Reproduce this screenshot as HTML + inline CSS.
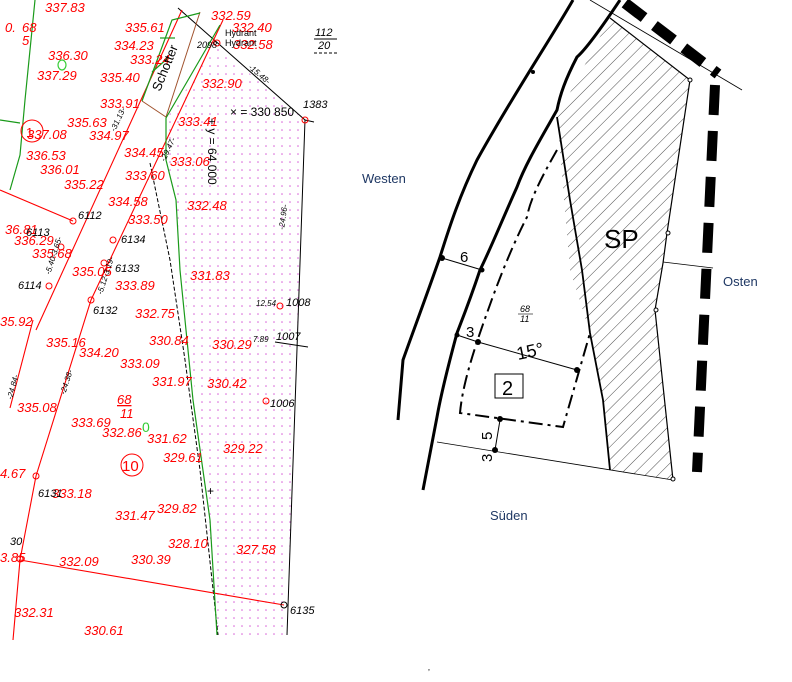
<!DOCTYPE html>
<html><head><meta charset="utf-8"><style>
html,body{margin:0;padding:0;background:#fff}
svg{display:block}
.r{fill:#f00;font:italic 13px "Liberation Sans",sans-serif}
.k{fill:#000;font:italic 11px "Liberation Sans",sans-serif}
.b{fill:#1f3864;font:13px "Liberation Sans",sans-serif}
</style></head><body>
<svg width="792" height="682" viewBox="0 0 792 682" xmlns="http://www.w3.org/2000/svg">
<defs>
<pattern id="dots" width="8" height="8" patternUnits="userSpaceOnUse"><circle cx="2" cy="2" r="0.8" fill="#d860d8"/></pattern>
<pattern id="hatch" width="9" height="9" patternUnits="userSpaceOnUse" patternTransform="rotate(45)"><line x1="0" y1="0" x2="0" y2="9" stroke="#000" stroke-width="0.7"/></pattern>
</defs>
<!-- LEFT MAP -->
<polygon points="216,45 305,120 287,635 218,635 205,480 190,350 176,200 166,160 167,118" fill="url(#dots)"/>
<polyline points="178,8 305,120 287,635" fill="none" stroke="#000" stroke-width="1"/>
<line x1="275" y1="342" x2="308" y2="347" stroke="#000"/>
<line x1="305" y1="120" x2="314" y2="122" stroke="#000"/>
<polyline points="150,163 170,260 185,360 200,470 218,635" fill="none" stroke="#000" stroke-width="1" stroke-dasharray="4,2"/>
<g stroke="#f00" stroke-width="1.1" fill="none">
<line x1="182" y1="10" x2="36" y2="330"/>
<line x1="33" y1="320" x2="10" y2="408"/>
<polyline points="223,20 91,300 36,476 20,560 13,640"/>
<line x1="0" y1="190" x2="73" y2="221"/>
<line x1="20" y1="560" x2="284" y2="605"/>
</g>
<polyline points="142,101 166,117 200,12" fill="none" stroke="#a0522d" stroke-width="1"/>
<g stroke="#1a9a1a" stroke-width="1.2" fill="none">
<polyline points="35,0 25,100 20,155 10,190"/>
<polyline points="0,120 20,123"/>
<polyline points="142,101 172,20 200,13"/>
<polyline points="220,25 166,118 166,160 176,200 180,270 193,400 210,520 217,635"/>
<line x1="160" y1="38" x2="175" y2="38"/><line x1="152" y1="72" x2="168" y2="58"/>
</g>
<ellipse cx="62" cy="65" rx="4" ry="5" fill="none" stroke="#3c3" stroke-width="1.2"/>
<text x="142" y="432" fill="#3c3" font-family="Liberation Sans" font-size="14">0</text>
<g fill="none" stroke="#f00" stroke-width="1">
<circle cx="32" cy="131" r="11"/><circle cx="73" cy="221" r="3"/><circle cx="61" cy="247" r="3"/><circle cx="49" cy="286" r="3"/>
<circle cx="113" cy="240" r="3"/><circle cx="104" cy="263" r="3"/><circle cx="91" cy="300" r="3"/>
<circle cx="36" cy="476" r="3"/><circle cx="20" cy="559" r="3"/><circle cx="266" cy="401" r="3"/><circle cx="280" cy="306" r="3"/><circle cx="305" cy="120" r="3"/><circle cx="217" cy="43" r="3"/>
<circle cx="132" cy="465" r="11"/>
</g>
<circle cx="284" cy="605" r="3" fill="none" stroke="#000"/>
<text x="26" y="137" class="r" style="font-style:normal">1</text>
<text x="122" y="471" fill="#f00" font-family="Liberation Sans" font-size="15">10</text>
<g class="r">
<text x="45" y="12">337.83</text><text x="5" y="32">0.</text><text x="22" y="32">68</text><text x="22" y="45">5</text>
<text x="48" y="60">336.30</text><text x="37" y="80">337.29</text>
<text x="125" y="32">335.61</text><text x="114" y="50">334.23</text><text x="130" y="64">333.24</text><text x="100" y="82">335.40</text>
<text x="100" y="108">333.91</text><text x="67" y="127">335.63</text><text x="27" y="139">337.08</text><text x="89" y="140">334.97</text>
<text x="26" y="160">336.53</text><text x="124" y="157">334.45</text><text x="40" y="174">336.01</text><text x="64" y="189">335.22</text>
<text x="125" y="180">333.60</text><text x="108" y="206">334.58</text><text x="128" y="224">333.50</text>
<text x="5" y="234">36.81</text><text x="14" y="245">336.29</text><text x="32" y="258">335.68</text><text x="72" y="276">335.05</text>
<text x="115" y="290">333.89</text><text x="0" y="326">35.92</text><text x="135" y="318">332.75</text>
<text x="211" y="20">332.59</text><text x="232" y="32">332.40</text><text x="233" y="49">332.58</text><text x="202" y="88">332.90</text>
<text x="178" y="126">333.41</text><text x="170" y="166">333.06</text><text x="187" y="210">332.48</text><text x="190" y="280">331.83</text>
<text x="149" y="345">330.84</text><text x="212" y="349">330.29</text><text x="46" y="347">335.16</text><text x="79" y="357">334.20</text>
<text x="120" y="368">333.09</text><text x="152" y="386">331.97</text><text x="207" y="388">330.42</text><text x="17" y="412">335.08</text>
<text x="71" y="427">333.69</text><text x="102" y="437">332.86</text><text x="147" y="443">331.62</text><text x="163" y="462">329.61</text>
<text x="223" y="453">329.22</text><text x="0" y="478">4.67</text><text x="52" y="498">333.18</text><text x="157" y="513">329.82</text>
<text x="115" y="520">331.47</text><text x="168" y="548">328.10</text><text x="236" y="554">327.58</text><text x="0" y="562">3.85</text>
<text x="59" y="566">332.09</text><text x="131" y="564">330.39</text><text x="14" y="617">332.31</text><text x="84" y="635">330.61</text>
<text x="117" y="404" style="text-decoration:underline">68</text><text x="120" y="418">11</text>
</g>
<g class="k">
<text x="78" y="219">6112</text><text x="121" y="243">6134</text><text x="115" y="272">6133</text><text x="18" y="289">6114</text>
<text x="93" y="314">6132</text><text x="26" y="236">6113</text><text x="38" y="497">6131</text><text x="10" y="545">30</text>
<text x="303" y="108">1383</text><text x="286" y="306">1008</text><text x="276" y="340">1007</text><text x="270" y="407">1006</text><text x="290" y="614">6135</text>
<text x="256" y="306" style="font-size:8px">12.54</text><text x="253" y="342" style="font-size:8px">7.89</text>
<text x="197" y="48" style="font-size:9px">2098</text>
<text x="315" y="36" style="font-size:11px">112</text><text x="318" y="49" style="font-size:11px">20</text>
<line x1="314" y1="39" x2="337" y2="39" stroke="#000"/><line x1="314" y1="53" x2="337" y2="53" stroke="#000" stroke-dasharray="3,2"/>
<text x="225" y="36" style="font-style:normal;font-size:9px">Hydrant</text><text x="225" y="46" style="font-style:normal;font-size:9px">Hydrant</text>
<text x="230" y="116" style="font-style:normal;font-size:12px">×  = 330  850</text>
<text x="0" y="0" transform="translate(208,118) rotate(90)" style="font-style:normal;font-size:12px">+ y = 64  000</text>
<text x="0" y="0" transform="translate(160,92) rotate(-68)" style="font-style:normal;font-size:13px">Schotter</text>
<text x="0" y="0" transform="translate(248,68) rotate(40)" style="font-size:8px">-15.48-</text>
<text x="0" y="0" transform="translate(284,230) rotate(-82)" style="font-size:8px">-24.96-</text>
<text x="0" y="0" transform="translate(115,132) rotate(-65)" style="font-size:8px">-31.13-</text>
<text x="0" y="0" transform="translate(165,162) rotate(-65)" style="font-size:8px">-29.47-</text>
<text x="0" y="0" transform="translate(12,400) rotate(-75)" style="font-size:8px">-24.84-</text>
<text x="0" y="0" transform="translate(65,395) rotate(-72)" style="font-size:8px">-24.38-</text>
<text x="0" y="0" transform="translate(50,275) rotate(-72)" style="font-size:8px">-5.40-3.65-</text>
<text x="0" y="0" transform="translate(102,295) rotate(-72)" style="font-size:8px">-5.12-3.19-</text>
</g>
<text x="207" y="495" font-size="12" font-family="Liberation Sans">+</text>
<text x="428" y="670" font-size="8">,</text>
<!-- RIGHT DIAGRAM -->
<polygon points="610,18 690,80 667,233 663,263 655,310 673,480 610,470 603,400 590,333 570,270 557,117" fill="url(#hatch)"/>
<polyline points="610,18 690,80 667,233 663,263 655,310 673,480" fill="none" stroke="#000" stroke-width="1.2"/>
<polyline points="557,117 570,200 582,270 590,333 603,400 610,470" fill="none" stroke="#000" stroke-width="1.8"/>
<line x1="590" y1="0" x2="742" y2="90" stroke="#000" stroke-width="0.8"/>
<line x1="663" y1="262" x2="713" y2="268" stroke="#000" stroke-width="0.8"/>
<line x1="437" y1="442" x2="673" y2="480" stroke="#000" stroke-width="0.8"/>
<path d="M573,0 C550,40 510,100 477,160 C460,195 450,225 440,257 C425,300 410,340 403,360 L398,420" fill="none" stroke="#000" stroke-width="3"/>
<path d="M620,0 C600,30 585,50 577,57 C565,80 560,95 557,110 C540,140 525,165 517,187 C500,225 490,250 480,270 C470,300 462,320 457,333 C447,370 440,400 437,417 L423,490" fill="none" stroke="#000" stroke-width="3"/>
<path d="M557,150 C540,180 530,200 527,217 C510,250 495,290 487,313 C470,360 462,390 460,413 L563,427 L590,333" fill="none" stroke="#000" stroke-width="2" stroke-dasharray="14,5,3,5"/>
<polyline points="625,3 718,74" fill="none" stroke="#000" stroke-width="11" stroke-dasharray="24,13"/>
<polyline points="715,85 697,472" fill="none" stroke="#000" stroke-width="10" stroke-dasharray="30,16"/>
<line x1="442" y1="258" x2="482" y2="270" stroke="#000"/>
<line x1="457" y1="335" x2="478" y2="342" stroke="#000"/>
<line x1="478" y1="342" x2="577" y2="370" stroke="#000"/>
<line x1="500" y1="420" x2="495" y2="450" stroke="#000"/>
<g fill="#000"><circle cx="442" cy="258" r="3"/><circle cx="482" cy="270" r="2.5"/><circle cx="457" cy="335" r="2.5"/><circle cx="478" cy="342" r="3"/><circle cx="577" cy="370" r="3"/><circle cx="500" cy="419" r="3"/><circle cx="495" cy="450" r="3"/><circle cx="533" cy="72" r="2"/></g>
<g fill="#fff" stroke="#000"><circle cx="690" cy="80" r="2"/><circle cx="668" cy="233" r="2"/><circle cx="656" cy="310" r="2"/><circle cx="673" cy="479" r="2"/></g>
<g font-family="Liberation Sans" fill="#000">
<text x="604" y="248" font-size="26">SP</text>
<text x="460" y="262" font-size="15">6</text>
<text x="466" y="337" font-size="15">3</text>
<text x="518" y="360" font-size="18" transform="rotate(-12 518 360)">15°</text>
<text x="520" y="312" font-size="9" font-style="italic">68</text><text x="520" y="322" font-size="9" font-style="italic">11</text>
<line x1="518" y1="314" x2="533" y2="314" stroke="#000" stroke-width="0.6"/>
<rect x="495" y="374" width="28" height="24" fill="none" stroke="#000"/>
<text x="502" y="395" font-size="20">2</text>
<text x="0" y="0" font-size="15" transform="translate(492,440) rotate(-90)">5</text>
<text x="0" y="0" font-size="15" transform="translate(492,462) rotate(-90)">3</text>
</g>
<text x="362" y="183" class="b">Westen</text>
<text x="723" y="286" class="b">Osten</text>
<text x="490" y="520" class="b">Süden</text>
</svg>
</body></html>
